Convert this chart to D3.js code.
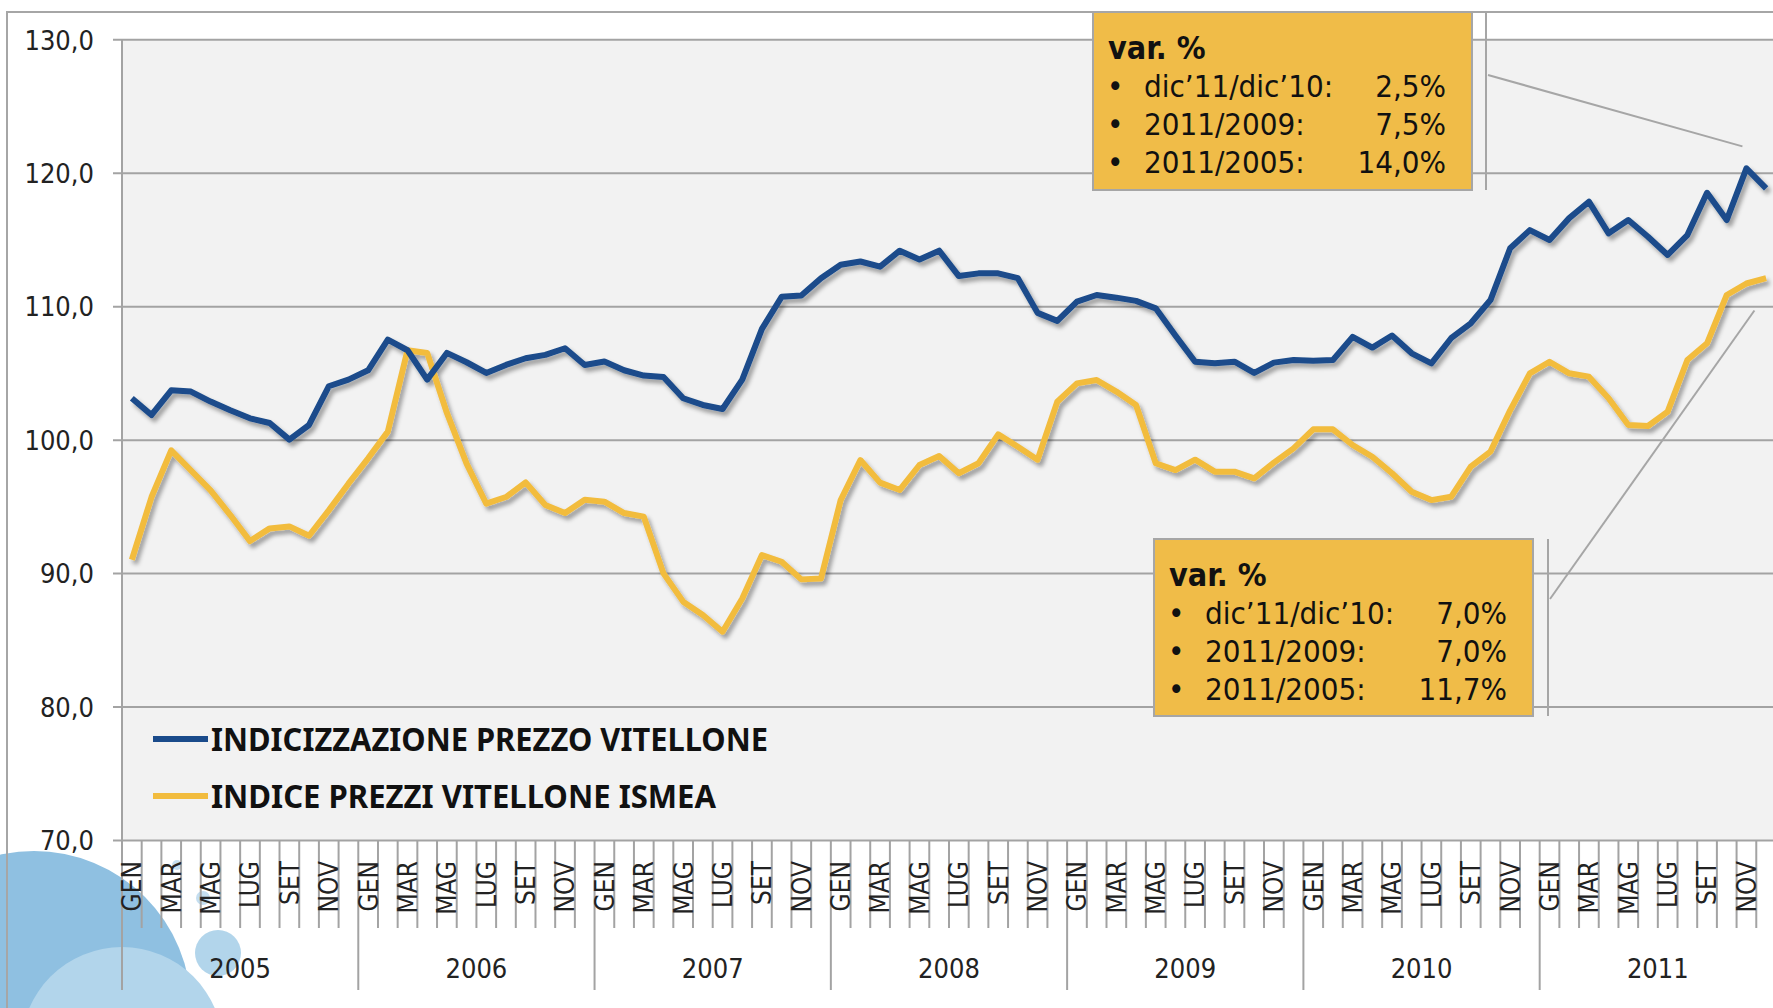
<!DOCTYPE html>
<html>
<head>
<meta charset="utf-8">
<script src="https://cdn.jsdelivr.net/npm/d3@7/dist/d3.min.js"></script>
<style>
  html, body { margin: 0; padding: 0; background: #fff; }
  svg { display: block; }
  .cond { font-family: "DejaVu Sans Condensed", "DejaVu Sans", sans-serif; }
</style>
</head>
<body>
<svg id="chart"></svg>
<script>
const W = 1773, H = 1008;

// month labels (every other month is shown) and years
const months = ['GEN', 'FEB', 'MAR', 'APR', 'MAG', 'GIU', 'LUG', 'AGO', 'SET', 'OTT', 'NOV', 'DIC'];
const years = ['2005', '2006', '2007', '2008', '2009', '2010', '2011'];
const yTicks = [70, 80, 90, 100, 110, 120, 130];

// INDICIZZAZIONE PREZZO VITELLONE
const indicizzazione = [
  103.1, 101.85, 103.7, 103.6, 102.85, 102.2, 101.6, 101.25, 100.0, 101.1, 104.0, 104.5,
  105.2, 107.5, 106.7, 104.5, 106.5, 105.8, 105.0, 105.6, 106.1, 106.35, 106.85, 105.6,
  105.85, 105.2, 104.8, 104.7, 103.1, 102.6, 102.3, 104.5, 108.3, 110.7, 110.8, 112.1,
  113.1, 113.35, 112.96, 114.16, 113.5, 114.16, 112.26, 112.46, 112.46, 112.1, 109.5, 108.9,
  110.34, 110.84, 110.64, 110.4, 109.84, 107.8, 105.84, 105.72, 105.84, 105.0, 105.77, 105.97,
  105.92, 105.97, 107.7, 106.9, 107.8, 106.47, 105.72, 107.6, 108.72, 110.46, 114.34, 115.7,
  114.96, 116.6, 117.83, 115.46, 116.46, 115.2, 113.84, 115.33, 118.5, 116.46, 120.33, 118.83
];

// INDICE PREZZI VITELLONE ISMEA
const ismea = [
  91.0, 95.7, 99.2, 97.7, 96.2, 94.35, 92.4, 93.35, 93.5, 92.8, 94.7, 96.7,
  98.6, 100.6, 106.7, 106.5, 102.0, 98.2, 95.2, 95.7, 96.8, 95.1, 94.5, 95.5,
  95.35, 94.5, 94.23, 89.98, 87.86, 86.86, 85.61, 88.1, 91.35, 90.85, 89.53, 89.6,
  95.47, 98.47, 96.78, 96.23, 98.1, 98.78, 97.48, 98.23, 100.4, 99.47, 98.5, 102.84,
  104.22, 104.47, 103.6, 102.6, 98.23, 97.72, 98.5, 97.6, 97.6, 97.1, 98.28, 99.35,
  100.77, 100.77, 99.6, 98.72, 97.48, 96.1, 95.47, 95.72, 97.98, 99.1, 102.2, 104.97,
  105.84, 104.97, 104.72, 103.1, 101.1, 101.02, 102.1, 105.97, 107.22, 110.84, 111.7, 112.1
];

const seriesNames = ['INDICIZZAZIONE PREZZO VITELLONE', 'INDICE PREZZI VITELLONE ISMEA'];
const seriesColors = ['#1a4b8b', '#f2bc3e'];

// annotation boxes
const boxBlue = [['dic\u201911/dic\u201910:', '2,5%'], ['2011/2009:', '7,5%'], ['2011/2005:', '14,0%']];
const boxYellow = [['dic\u201911/dic\u201910:', '7,0%'], ['2011/2009:', '7,0%'], ['2011/2005:', '11,7%']];

const n = indicizzazione.length;
const idx = d3.range(n);

const plotLeft = 122, monthW = 19.69;
const plotTop = 39.3, plotBottom = 840;

const svg = d3.select('#chart').attr('width', W).attr('height', H);

const x = d3.scaleBand().domain(idx).range([plotLeft, plotLeft + n * monthW]).padding(0);
const y = d3.scaleLinear().domain([70, 130]).range([plotBottom, plotTop]);

const defs = svg.append('defs');
const shadow = defs.append('filter').attr('id', 'shadow')
  .attr('x', '-5%').attr('y', '-5%').attr('width', '110%').attr('height', '120%');
shadow.append('feDropShadow')
  .attr('dx', 3).attr('dy', 4).attr('stdDeviation', 2)
  .attr('flood-color', '#000').attr('flood-opacity', 0.35);

// page background
svg.append('rect').attr('width', W).attr('height', H).attr('fill', '#fff');

// decorative bubbles bottom-left
const bubbles = svg.append('g');
bubbles.append('circle').attr('cx', 34).attr('cy', 1008).attr('r', 157).attr('fill', '#8fc0e1');
bubbles.append('circle').attr('cx', 122).attr('cy', 1048).attr('r', 101).attr('fill', '#b2d5eb');
bubbles.append('circle').attr('cx', 218).attr('cy', 953).attr('r', 23).attr('fill', '#b2d5eb');
bubbles.append('circle').attr('cx', 203).attr('cy', 898).attr('r', 7).attr('fill', '#c4def0');
bubbles.append('circle').attr('cx', 177).attr('cy', 865).attr('r', 5).attr('fill', '#c4def0');

// chart frame
svg.append('path')
  .attr('d', `M7,${H} L7,12 L${W},12`)
  .attr('fill', 'none').attr('stroke', '#a6a6a6').attr('stroke-width', 2);

// plot area
svg.append('rect')
  .attr('x', plotLeft).attr('y', plotTop)
  .attr('width', W - plotLeft).attr('height', plotBottom - plotTop)
  .attr('fill', '#f2f2f2');

// y axis with gridlines
const yAxis = d3.axisLeft(y)
  .tickValues(yTicks)
  .tickSize(-(W - plotLeft))
  .tickPadding(0)
  .tickFormat(d => d.toFixed(1).replace('.', ','));

const gy = svg.append('g').attr('transform', `translate(${plotLeft},0)`).call(yAxis);
gy.select('.domain').remove();
gy.selectAll('.tick line').attr('stroke', '#a3a3a3').attr('stroke-width', 2).attr('x1', -9);
gy.selectAll('.tick text')
  .attr('class', 'cond')
  .attr('x', -28).attr('dy', '0.36em')
  .attr('font-size', 27).attr('fill', '#222');

// x axis: month ticks, year separators
const gx = svg.append('g');
const boundaries = d3.range(n + 1);
gx.selectAll('line.mtick')
  .data(boundaries)
  .join('line')
  .attr('class', 'mtick')
  .attr('x1', d => plotLeft + d * x.bandwidth())
  .attr('x2', d => plotLeft + d * x.bandwidth())
  .attr('y1', plotBottom)
  .attr('y2', d => d % 12 === 0 ? 990 : 928)
  .attr('stroke', '#a3a3a3').attr('stroke-width', 2);

gx.append('line')
  .attr('x1', plotLeft).attr('x2', plotLeft)
  .attr('y1', plotTop).attr('y2', plotBottom)
  .attr('stroke', '#a3a3a3').attr('stroke-width', 2);

gx.selectAll('text.month')
  .data(idx.filter(i => i % 2 === 0))
  .join('text')
  .attr('class', 'month cond')
  .attr('transform', i => `translate(${x(i) + x.bandwidth() / 2},861) rotate(-90)`)
  .attr('dy', '0.36em')
  .attr('text-anchor', 'end')
  .attr('font-size', 26).attr('fill', '#222')
  .text(i => months[i % 12]);

gx.selectAll('text.year')
  .data(years)
  .join('text')
  .attr('class', 'year cond')
  .attr('x', (d, k) => x(k * 12) + 6 * x.bandwidth())
  .attr('y', 978)
  .attr('text-anchor', 'middle')
  .attr('font-size', 27).attr('fill', '#222')
  .text(d => d);

// lines
const line = d3.line()
  .x((d, i) => x(i) + x.bandwidth() / 2)
  .y(d => y(d));

const lines = svg.append('g').attr('filter', 'url(#shadow)');
[ismea, indicizzazione].forEach((s, k) => {
  lines.append('path')
    .datum(s)
    .attr('d', line)
    .attr('fill', 'none')
    .attr('stroke', k === 0 ? seriesColors[1] : seriesColors[0])
    .attr('stroke-width', 6)
    .attr('stroke-linejoin', 'round');
});

// legend
const legend = svg.append('g');
const legendRows = [
  { name: seriesNames[0], color: seriesColors[0], y: 739, len: 557 },
  { name: seriesNames[1], color: seriesColors[1], y: 796, len: 505 }
];
legendRows.forEach(r => {
  legend.append('line')
    .attr('x1', 153).attr('x2', 208).attr('y1', r.y).attr('y2', r.y)
    .attr('stroke', r.color).attr('stroke-width', 6);
  legend.append('text')
    .attr('x', 211).attr('y', r.y + 11.5)
    .attr('font-family', '"Liberation Sans Narrow", "Noto Sans", sans-serif')
    .attr('font-weight', 'bold').attr('font-size', 33)
    .attr('textLength', r.len).attr('lengthAdjust', 'spacingAndGlyphs')
    .attr('fill', '#111')
    .text(r.name);
});

// annotation boxes
function annotBox(opts) {
  const g = svg.append('g');
  g.append('line')
    .attr('x1', opts.sideX).attr('x2', opts.sideX)
    .attr('y1', opts.y0).attr('y2', opts.y1)
    .attr('stroke', '#a6a6a6').attr('stroke-width', 2);
  g.append('line')
    .attr('x1', opts.sideX + 2).attr('y1', opts.from)
    .attr('x2', opts.to[0]).attr('y2', opts.to[1])
    .attr('stroke', '#a6a6a6').attr('stroke-width', 2);
  g.append('rect')
    .attr('x', opts.x0).attr('y', opts.y0)
    .attr('width', opts.x1 - opts.x0).attr('height', opts.y1 - opts.y0)
    .attr('fill', '#f0bc48').attr('stroke', '#a6a6a6').attr('stroke-width', 2);
  g.append('text').attr('class', 'cond')
    .attr('x', opts.x0 + 15).attr('y', opts.y0 + 47)
    .attr('font-size', 32).attr('font-weight', 'bold').attr('fill', '#111')
    .text('var. %');
  opts.rows.forEach((r, k) => {
    const by = opts.y0 + 85 + k * 38;
    g.append('text').attr('class', 'cond')
      .attr('x', opts.x0 + 14).attr('y', by)
      .attr('font-size', 31).attr('fill', '#111').text('\u2022');
    g.append('text').attr('class', 'cond')
      .attr('x', opts.x0 + 51).attr('y', by)
      .attr('font-size', 31).attr('fill', '#111').text(r[0]);
    g.append('text').attr('class', 'cond')
      .attr('x', opts.x1 - 26).attr('y', by)
      .attr('text-anchor', 'end')
      .attr('font-size', 31).attr('fill', '#111').text(r[1]);
  });
}

annotBox({
  x0: 1093, x1: 1472, y0: 12, y1: 190, sideX: 1486, from: 75,
  to: [x(82) + x.bandwidth() / 2 - 4, y(indicizzazione[82]) - 22],
  rows: boxBlue
});
annotBox({
  x0: 1154, x1: 1533, y0: 539, y1: 716, sideX: 1548, from: 599,
  to: [x(82) + x.bandwidth() / 2 + 8, y(ismea[82]) + 27],
  rows: boxYellow
});
</script>
</body>
</html>
